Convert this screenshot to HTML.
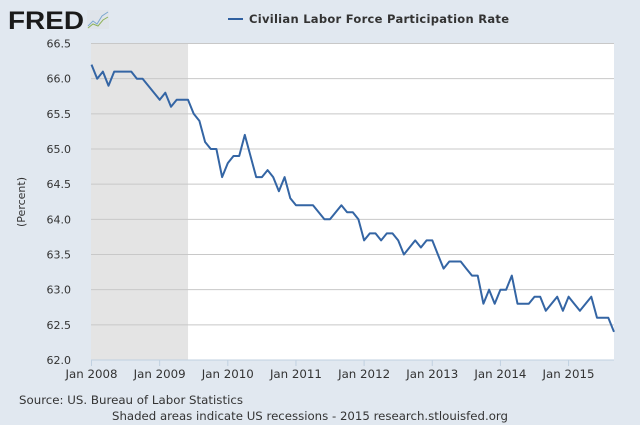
<!DOCTYPE html>
<html><head><meta charset="utf-8"><style>
body{margin:0;background:#e1e8f0;}
svg{display:block;font-family:"DejaVu Sans","Liberation Sans",sans-serif;}
</style></head><body>
<svg id="chart" width="640" height="425" viewBox="0 0 640 425" xmlns="http://www.w3.org/2000/svg">
<rect x="0" y="0" width="640" height="425" fill="#e1e8f0"/>
<g>
<text x="8" y="29" font-family="Liberation Sans,sans-serif" font-weight="bold" font-size="25" fill="#1a1a1a" textLength="76" lengthAdjust="spacingAndGlyphs">FRED</text>
<rect x="87" y="10" width="22" height="19" fill="#dfe4ea"/>
<polyline points="88,26 93,21 97,24 102,16 108,12" fill="none" stroke="#7ca7cf" stroke-width="1"/>
<polyline points="88,28 93,24 98,26 103,20 108,17" fill="none" stroke="#8fb35a" stroke-width="1"/>
</g>
<g>
<line x1="228" y1="19" x2="243" y2="19" stroke="#3060a0" stroke-width="2"/>
<text x="249" y="23" font-size="11.5" font-weight="bold" fill="#333" textLength="260" lengthAdjust="spacing">Civilian Labor Force Participation Rate</text>
</g>
<rect id="plot" x="91" y="43.5" width="523" height="316.5" fill="#ffffff"/>
<g id="rec"></g>
<g id="grid"></g>
<g id="yt"></g>
<g id="xt"></g>
<g id="series"></g>
<text transform="translate(25,202) rotate(-90)" text-anchor="middle" font-size="11" fill="#333">(Percent)</text>
<text x="19" y="404" font-size="11.5" fill="#333" textLength="224" lengthAdjust="spacingAndGlyphs">Source: US. Bureau of Labor Statistics</text>
<text x="112" y="420" font-size="11.5" fill="#333" textLength="396" lengthAdjust="spacingAndGlyphs">Shaded areas indicate US recessions - 2015 research.stlouisfed.org</text>
</svg>
<script>
const values = [66.2,66.0,66.1,65.9,66.1,66.1,66.1,66.1,66.0,66.0,65.9,65.8,
65.7,65.8,65.6,65.7,65.7,65.7,65.5,65.4,65.1,65.0,65.0,64.6,
64.8,64.9,64.9,65.2,64.9,64.6,64.6,64.7,64.6,64.4,64.6,64.3,
64.2,64.2,64.2,64.2,64.1,64.0,64.0,64.1,64.2,64.1,64.1,64.0,
63.7,63.8,63.8,63.7,63.8,63.8,63.7,63.5,63.6,63.7,63.6,63.7,
63.7,63.5,63.3,63.4,63.4,63.4,63.3,63.2,63.2,62.8,63.0,62.8,
63.0,63.0,63.2,62.8,62.8,62.8,62.9,62.9,62.7,62.8,62.9,62.7,
62.9,62.8,62.7,62.8,62.9,62.6,62.6,62.6,62.4];
const yTicks = [62.0,62.5,63.0,63.5,64.0,64.5,65.0,65.5,66.0,66.5];
const xTickLabels = ["Jan 2008","Jan 2009","Jan 2010","Jan 2011","Jan 2012","Jan 2013","Jan 2014","Jan 2015"];
const xTickMonths = [0,12,24,36,48,60,72,84];
const recession = [0,17];

const NS="http://www.w3.org/2000/svg";
const x0=91.5, x1=614, yTop=43.5, yBot=360;
const xs=i=>x0+(x1-x0)*i/(values.length-1);
const ys=v=>yBot-(v-62)/(66.5-62)*(yBot-yTop);
function mk(tag,attrs,parent){const e=document.createElementNS(NS,tag);for(const k in attrs)e.setAttribute(k,attrs[k]);parent.appendChild(e);return e;}
const rec=document.getElementById('rec');
const r=mk('rect',{x:91,y:yTop,width:xs(recession[1])-91,height:yBot-yTop,fill:'#e4e4e4'},rec);


const grid=document.getElementById('grid'), yt=document.getElementById('yt');
yTicks.forEach(v=>{
  const l=mk('line',{x1:91,x2:614,y1:ys(v),y2:ys(v),stroke:v===62?'#c0d0e0':'#c8c8c8','stroke-width':1},grid);
  
  
  const t=mk('text',{x:71,y:ys(v)+4,'text-anchor':'end','font-size':11,fill:'#333'},yt);
  t.textContent=v.toFixed(1);
  
  
});
const xt=document.getElementById('xt');
xTickLabels.forEach((s,i)=>{
  const x=xs(xTickMonths[i]);
  const tk=mk('line',{x1:x,x2:x,y1:yBot,y2:yBot+6,stroke:'#c0d0e0'},xt);
  
  
  const t=mk('text',{x:x,y:yBot+18,'text-anchor':'middle','font-size':11.5,fill:'#333',textLength:52,lengthAdjust:'spacingAndGlyphs'},xt);
  t.textContent=s;
  
  
});
const p=mk('polyline',{points:values.map((v,i)=>xs(i).toFixed(1)+','+ys(v).toFixed(1)).join(' '),fill:'none',stroke:'#3465a4','stroke-width':2,'stroke-linejoin':'round'},document.getElementById('series'));


</script>
</body></html>
